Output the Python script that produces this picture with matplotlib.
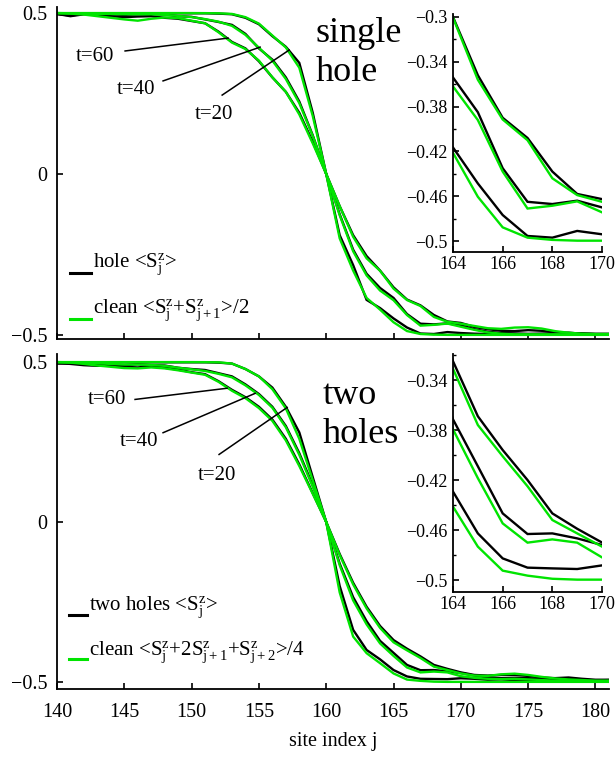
import numpy as np
import matplotlib
matplotlib.use("Agg")
import matplotlib.pyplot as plt
from matplotlib.ticker import MultipleLocator

plt.rcParams['font.family'] = ['Liberation Serif', 'DejaVu Serif']
plt.rcParams['mathtext.fontset'] = 'custom'
plt.rcParams['mathtext.rm'] = 'Liberation Serif'
plt.rcParams['mathtext.it'] = 'Liberation Serif:italic'

sites = np.arange(140, 182)

# single hole: <S^z_j> (hole) vs averaged clean chain, t = 20, 40, 60
hole20 = [0.497, 0.494, 0.498, 0.499, 0.499, 0.499, 0.499, 0.499, 0.499, 0.499, 0.499, 0.499, 0.498, 0.496,
          0.485, 0.465, 0.428, 0.395, 0.345, 0.19, 0.0, -0.19, -0.283, -0.391, -0.4165, -0.4486, -0.4768, -0.4955,
          -0.497, -0.491, -0.494, -0.496, -0.497, -0.494, -0.496, -0.497, -0.497, -0.495, -0.493, -0.496, -0.497, -0.497]
clean20 = [0.4997] * 11 + [0.4995, 0.499, 0.497,
           0.487, 0.467, 0.43, 0.393, 0.33, 0.18, 0.0, -0.2, -0.3, -0.385, -0.4213, -0.4605, -0.4878, -0.497,
           -0.499] + [-0.4997] * 13
hole40 = [0.497, 0.492, 0.497, 0.498, 0.496, 0.494, 0.496, 0.497, 0.495, 0.49, 0.488, 0.48, 0.472, 0.463,
          0.435, 0.39, 0.355, 0.30, 0.225, 0.12, 0.0, -0.125, -0.235, -0.31, -0.354, -0.385, -0.435, -0.465,
          -0.467, -0.464, -0.470, -0.482, -0.49, -0.494, -0.496, -0.497, -0.496, -0.497, -0.497, -0.497, -0.497, -0.497]
clean40 = [0.4997, 0.499, 0.498, 0.497, 0.497, 0.496, 0.496, 0.496, 0.494, 0.491, 0.487, 0.481, 0.473, 0.46,
           0.432, 0.392, 0.352, 0.295, 0.22, 0.118, 0.0, -0.128, -0.24, -0.315, -0.362, -0.392, -0.438, -0.471,
           -0.4685, -0.4646, -0.4744, -0.484, -0.492, -0.496, -0.498, -0.498, -0.498, -0.498, -0.498, -0.498, -0.498, -0.498]
hole60 = [0.497, 0.49, 0.496, 0.495, 0.49, 0.487, 0.489, 0.49, 0.485, 0.482, 0.475, 0.468, 0.442, 0.41,
          0.39, 0.35, 0.30, 0.255, 0.19, 0.1, 0.0, -0.1, -0.19, -0.255, -0.30, -0.352, -0.390, -0.408,
          -0.438, -0.458, -0.4626, -0.475, -0.482, -0.487, -0.488, -0.485, -0.487, -0.492, -0.494, -0.495, -0.497, -0.497]
clean60 = [0.4997, 0.498, 0.495, 0.49, 0.485, 0.48, 0.476, 0.482, 0.486, 0.484, 0.476, 0.468, 0.44, 0.408,
           0.388, 0.352, 0.30, 0.255, 0.185, 0.095, 0.0, -0.1, -0.195, -0.262, -0.3006, -0.356, -0.3915, -0.410,
           -0.444, -0.459, -0.465, -0.472, -0.479, -0.481, -0.477, -0.476, -0.48, -0.488, -0.493, -0.496, -0.497, -0.497]

# two holes
holes20 = [0.495, 0.497, 0.499, 0.499, 0.499, 0.499, 0.499, 0.499, 0.499, 0.499, 0.499, 0.499, 0.498, 0.495,
           0.478, 0.455, 0.42, 0.36, 0.28, 0.14, 0.0, -0.20, -0.337, -0.40, -0.4293, -0.4627, -0.4827, -0.4901,
           -0.4907, -0.4912, -0.4883, -0.49, -0.493, -0.492, -0.494, -0.495, -0.494, -0.492, -0.491, -0.494, -0.495, -0.494]
avg20 = [0.4997] * 11 + [0.4995, 0.499, 0.495,
         0.478, 0.455, 0.415, 0.355, 0.26, 0.13, 0.0, -0.22, -0.358, -0.41, -0.4413, -0.4733, -0.4925, -0.4965,
         -0.499] + [-0.4997] * 13
holes40 = [0.497, 0.495, 0.497, 0.494, 0.492, 0.49, 0.493, 0.49, 0.489, 0.482, 0.478, 0.475, 0.465, 0.455,
           0.43, 0.40, 0.36, 0.30, 0.215, 0.115, 0.0, -0.13, -0.235, -0.31, -0.3715, -0.409, -0.4467, -0.4632,
           -0.4627, -0.4667, -0.472, -0.48, -0.486, -0.488, -0.487, -0.488, -0.491, -0.493, -0.495, -0.496, -0.496, -0.496]
avg40 = [0.4997, 0.499, 0.498, 0.496, 0.494, 0.492, 0.492, 0.491, 0.488, 0.482, 0.477, 0.472, 0.463, 0.452,
         0.427, 0.397, 0.357, 0.296, 0.21, 0.11, 0.0, -0.135, -0.245, -0.32, -0.3795, -0.4185, -0.4547, -0.4701,
         -0.4675, -0.4701, -0.4819, -0.487, -0.49, -0.491, -0.49, -0.492, -0.494, -0.496, -0.497, -0.497, -0.497, -0.497]
holes60 = [0.497, 0.494, 0.49, 0.488, 0.49, 0.485, 0.483, 0.487, 0.482, 0.476, 0.468, 0.462, 0.44, 0.413,
           0.39, 0.36, 0.32, 0.26, 0.18, 0.09, 0.0, -0.1, -0.19, -0.265, -0.325, -0.369, -0.396, -0.420,
           -0.4467, -0.459, -0.470, -0.478, -0.48, -0.478, -0.478, -0.481, -0.486, -0.488, -0.486, -0.49, -0.493, -0.493]
avg60 = [0.4997, 0.498, 0.494, 0.489, 0.485, 0.481, 0.48, 0.483, 0.48, 0.474, 0.467, 0.46, 0.438, 0.41,
         0.387, 0.356, 0.316, 0.255, 0.175, 0.088, 0.0, -0.103, -0.195, -0.27, -0.331, -0.376, -0.401, -0.425,
         -0.452, -0.4627, -0.4733, -0.48, -0.481, -0.476, -0.474, -0.478, -0.484, -0.489, -0.492, -0.494, -0.496, -0.496]

x_ticks = [140, 145, 150, 155, 160, 165, 170, 175, 180]
y_ticks = [-0.5, 0, 0.5]
y_ticklabels = ["\u22120.5", "0", "0.5"]
inset_xticks = [164, 166, 168, 170]
top_inset_yticks = [-0.3, -0.34, -0.38, -0.42, -0.46, -0.5]
bot_inset_yticks = [-0.34, -0.38, -0.42, -0.46, -0.5]
t_labels = ["t=60", "t=40", "t=20"]

GREEN = '#00e400'
LW = 1.7


def style(ax, tick_size, pad_x, pad_y, length):
    for side in ('top', 'right'):
        ax.spines[side].set_visible(False)
    for side in ('left', 'bottom'):
        ax.spines[side].set_linewidth(1.3)
    ax.tick_params(direction='in', length=length, width=1.2, labelsize=tick_size)
    ax.tick_params(axis='x', pad=pad_x)
    ax.tick_params(axis='y', pad=pad_y)
    ax.tick_params(which='minor', direction='in', length=length * 0.6, width=1.0)


def curves(ax, blacks, greens):
    for b in blacks:
        ax.plot(sites, b, color='k', lw=LW, solid_joinstyle='miter')
    for g in greens:
        ax.plot(sites, g, color=GREEN, lw=LW, solid_joinstyle='miter')


fig = plt.figure(figsize=(6.16, 7.59), dpi=100)

ax1 = fig.add_axes([0.0925, 0.5534, 0.896, 0.4374])
ax2 = fig.add_axes([0.0925, 0.0922, 0.896, 0.4414])

curves(ax1, [hole20, hole40, hole60], [clean20, clean40, clean60])
curves(ax2, [holes20, holes40, holes60], [avg20, avg40, avg60])

for ax in (ax1, ax2):
    style(ax, 14.5, 10, 7, 4)
    ax.set_xlim(140, 181)
    ax.set_xticks(x_ticks)
    ax.set_yticks(y_ticks)
    ax.set_yticklabels(y_ticklabels)

ax1.set_ylim(-0.5124, 0.5186)
ax2.set_ylim(-0.522, 0.525)
ax1.tick_params(axis='x', labelbottom=False)
ax2.set_xlabel("site index j", fontsize=14.5, labelpad=7)

# leader lines for the time labels
leaders_top = [((141.41, 0.351), (145.06, 0.382), (152.71, 0.422)),
               ((144.46, 0.248), (147.88, 0.289), (155.09, 0.394)),
               ((150.26, 0.171), (152.27, 0.245), (157.25, 0.385))]
leaders_bot = [((142.30, 0.370), (145.80, 0.383), (152.64, 0.418)),
               ((144.68, 0.239), (147.88, 0.279), (154.72, 0.402)),
               ((150.48, 0.130), (152.04, 0.211), (157.10, 0.358))]
for ax, leaders in ((ax1, leaders_top), (ax2, leaders_bot)):
    for lab, (tp, p0, p1) in zip(t_labels, leaders):
        ax.text(tp[0], tp[1], lab, fontsize=15, va='baseline', ha='left')
        ax.plot([p0[0], p1[0]], [p0[1], p1[1]], color='k', lw=1.1)

ax1.text(159.2, 0.411, "single", fontsize=26, va='baseline')
ax1.text(159.25, 0.289, "hole", fontsize=26, va='baseline')
ax2.text(159.7, 0.370, "two", fontsize=26, va='baseline')
ax2.text(159.7, 0.248, "holes", fontsize=26, va='baseline')


# hand-made legends
def key(ax, x0, x1, y, ty, color, label):
    ax.plot([x0, x1], [y, y], color=color, lw=2.2, transform=ax.transAxes, clip_on=False)
    ax.text(x1 + 0.004, ty, label, fontsize=15, va='baseline', transform=ax.transAxes)


key(ax1, 0.0236, 0.0616, 0.199, 0.217, 'k', r"hole <$\mathregular{S_j^z}$>")
key(ax1, 0.0236, 0.0616, 0.060, 0.078, GREEN,
    r"clean <$\mathregular{S_j^z}$+$\mathregular{S_{j+1}^z}$>/2")
key(ax2, 0.0217, 0.0543, 0.221, 0.236, 'k', r"two holes <$\mathregular{S_j^z}$>")
key(ax2, 0.0217, 0.0543, 0.0896, 0.1015, GREEN,
    r"clean <$\mathregular{S_j^z}$+2$\mathregular{S_{j+1}^z}$+$\mathregular{S_{j+2}^z}$>/4")

# zoomed insets of the right-hand tail
in1 = fig.add_axes([0.7354, 0.668, 0.2419, 0.3136])
in2 = fig.add_axes([0.7354, 0.220, 0.2419, 0.3136])
curves(in1, [hole20, hole40, hole60], [clean20, clean40, clean60])
curves(in2, [holes20, holes40, holes60], [avg20, avg40, avg60])
in1.set_ylim(-0.5098, -0.2973)
in2.set_ylim(-0.5096, -0.3192)
for ax, yt in ((in1, top_inset_yticks), (in2, bot_inset_yticks)):
    style(ax, 13, 3, 4, 4)
    ax.set_xlim(164, 170)
    ax.set_xticks(inset_xticks)
    ax.set_yticks(yt)
    ax.set_yticklabels(["\u2212" + f"{abs(v):g}" for v in yt])
    ax.yaxis.set_minor_locator(MultipleLocator(0.02))
    ax.patch.set_alpha(0)

fig.savefig("out.png", dpi=100)
